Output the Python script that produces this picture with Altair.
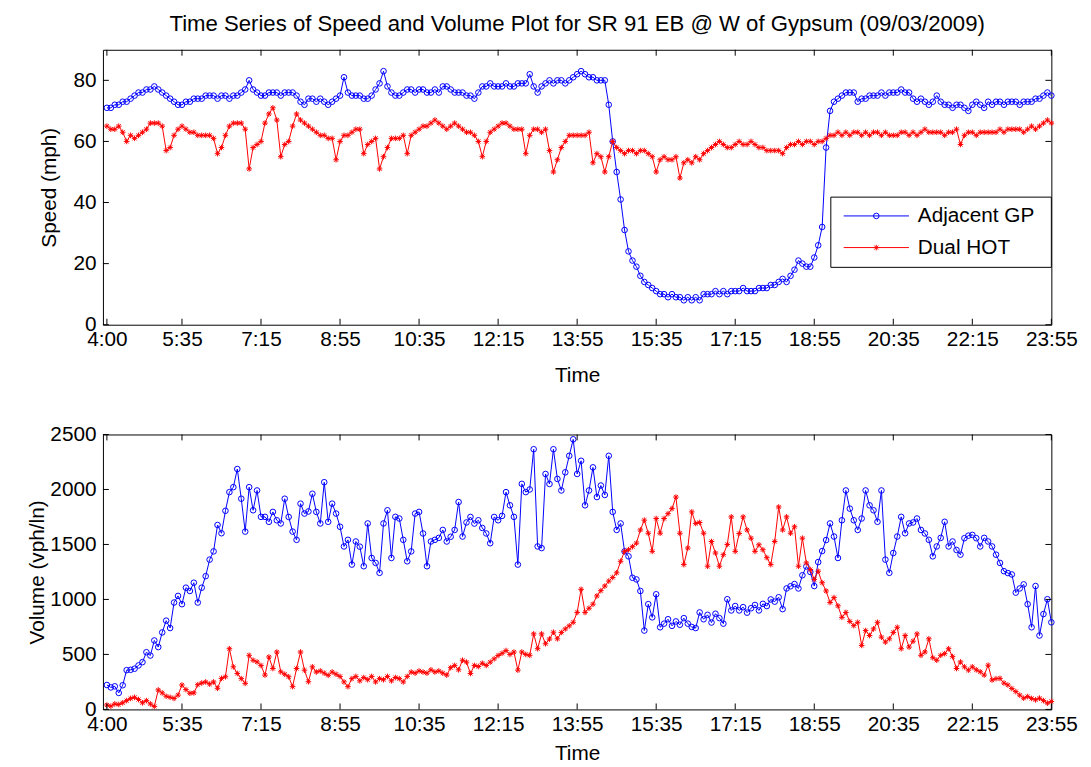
import altair as alt
import pandas as pd

FONT = "Liberation Sans"

# ---------------- data ----------------
time_index = list(range(1, 241))  # 5-minute intervals from 4:00 to 23:55
tick_positions = [1, 20, 40, 60, 80, 100, 120, 140, 160, 180, 200, 220, 240]
tick_labels = ["4:00", "5:35", "7:15", "8:55", "10:35", "12:15", "13:55",
               "15:35", "17:15", "18:55", "20:35", "22:15", "23:55"]
speed_ticks = [0, 20, 40, 60, 80]
volume_ticks = [0, 500, 1000, 1500, 2000, 2500]
series_names = ["Adjacent GP", "Dual HOT"]
series_colors = ["#0000FF", "#FF0000"]

speed_gp = [
    71, 71, 72, 72, 73, 73, 74, 75, 76, 76, 77, 77, 78, 77, 76, 75, 74, 73, 72, 72,
    73, 73, 74, 74, 74, 75, 75, 75, 74, 75, 75, 74, 75, 75, 76, 77, 80, 77, 76, 75,
    75, 76, 76, 76, 75, 76, 76, 76, 75, 73, 72, 74, 74, 73, 74, 73, 72, 73, 74, 75,
    81, 76, 75, 75, 75, 74, 74, 75, 77, 79, 83, 78, 76, 75, 75, 76, 77, 77, 76, 77,
    77, 76, 76, 77, 76, 78, 78, 77, 76, 76, 76, 75, 75, 74, 76, 78, 78, 79, 78, 78,
    78, 79, 78, 78, 79, 79, 79, 82, 78, 76, 78, 79, 80, 79, 80, 80, 79, 80, 81, 82,
    83, 82, 81, 81, 80, 80, 80, 72, 60, 50, 41, 31, 24, 21, 19, 16, 14, 13, 12, 11,
    10, 10, 9, 10, 9, 9, 8, 9, 8, 9, 8, 10, 10, 10, 11, 10, 11, 10, 11, 11,
    11, 12, 11, 11, 11, 12, 12, 12, 13, 13, 14, 15, 14, 16, 18, 21, 20, 19, 19, 22,
    26, 32, 58, 70, 73, 74, 75, 76, 76, 76, 73, 74, 74, 75, 75, 75, 76, 75, 76, 76,
    76, 77, 76, 76, 74, 73, 74, 73, 72, 73, 75, 73, 72, 72, 71, 72, 72, 71, 70, 72,
    73, 72, 71, 73, 72, 73, 73, 72, 73, 73, 73, 72, 73, 73, 73, 74, 74, 75, 76, 75,
]

speed_hot = [
    65, 64, 64, 65, 63, 60, 62, 61, 62, 63, 64, 66, 66, 66, 65, 57, 58, 62, 64, 65,
    64, 63, 63, 62, 62, 62, 62, 61, 56, 58, 62, 65, 66, 66, 66, 64, 51, 58, 59, 60,
    66, 69, 71, 67, 55, 59, 60, 65, 69, 67, 66, 65, 64, 63, 62, 62, 61, 61, 54, 60,
    62, 62, 63, 64, 64, 56, 59, 60, 61, 51, 55, 58, 61, 61, 61, 62, 56, 62, 63, 64,
    65, 65, 66, 67, 66, 65, 64, 65, 66, 65, 64, 63, 63, 62, 60, 55, 60, 63, 64, 65,
    66, 66, 65, 64, 64, 64, 56, 62, 64, 64, 63, 64, 57, 50, 54, 58, 60, 62, 62, 62,
    62, 62, 63, 53, 56, 55, 50, 55, 60, 58, 57, 56, 57, 57, 56, 57, 57, 56, 55, 50,
    54, 55, 54, 54, 55, 48, 53, 54, 53, 55, 54, 56, 57, 58, 59, 60, 59, 58, 58, 59,
    60, 59, 59, 60, 59, 58, 58, 57, 57, 57, 57, 56, 58, 59, 59, 60, 59, 60, 60, 59,
    60, 60, 61, 62, 62, 63, 62, 63, 62, 63, 63, 62, 63, 62, 63, 63, 62, 63, 62, 62,
    62, 63, 63, 62, 63, 62, 63, 64, 63, 63, 63, 63, 62, 63, 63, 64, 59, 62, 63, 63,
    62, 63, 63, 63, 63, 63, 64, 63, 64, 64, 64, 64, 63, 64, 65, 64, 65, 66, 67, 66,
]

volume_gp = [
    222, 200, 210, 150, 220, 357, 360, 370, 400, 430, 520, 490, 627, 567, 700, 807, 740, 972, 1032, 957,
    1107, 1077, 1152, 972, 1107, 1212, 1362, 1437, 1677, 1602, 1806, 1976, 2021, 2186, 1916, 1617, 2021, 1811, 1991, 1751,
    1751, 1706, 1796, 1720, 1691, 1916, 1750, 1617, 1542, 1871, 1781, 1800, 1961, 1796, 1691, 2066, 1706, 1871, 1781, 1661,
    1482, 1542, 1317, 1527, 1480, 1302, 1691, 1377, 1332, 1242, 1691, 1811, 1377, 1751, 1736, 1542, 1347, 1437, 1781, 1796,
    1600, 1302, 1527, 1542, 1560, 1632, 1527, 1570, 1632, 1886, 1572, 1700, 1750, 1690, 1720, 1650, 1600, 1511, 1750, 1720,
    1760, 1976, 1856, 1751, 1317, 2051, 1976, 2000, 2366, 1482, 1467, 2141, 2050, 2366, 2096, 1991, 2156, 2306, 2456, 2141,
    2261, 1856, 1991, 2201, 1931, 2036, 1950, 2306, 1796, 1632, 1691, 1437, 1392, 1197, 1182, 1077, 717, 957, 837, 1047,
    747, 780, 820, 760, 800, 770, 830, 780, 750, 740, 882, 820, 860, 790, 870, 830, 780, 1002, 900, 940,
    900, 930, 880, 920, 950, 900, 960, 940, 1000, 980, 1020, 912, 1100, 1120, 1140, 1100, 1220, 1300, 1250, 1122,
    1340, 1440, 1540, 1691, 1572, 1377, 1720, 1991, 1826, 1720, 1632, 1736, 1991, 1856, 1811, 1706, 1991, 1362, 1242, 1422,
    1572, 1751, 1602, 1691, 1700, 1736, 1632, 1600, 1542, 1392, 1482, 1560, 1706, 1482, 1527, 1450, 1407, 1557, 1580, 1587,
    1557, 1482, 1560, 1527, 1482, 1407, 1332, 1257, 1240, 1227, 1062, 1100, 1137, 957, 747, 1122, 672, 867, 1002, 792,
]

volume_hot = [
    40, 30, 50, 45, 60, 80, 100, 110, 90, 60, 80, 50, 27, 177, 150, 120, 110, 100, 130, 222,
    180, 147, 150, 225, 240, 250, 230, 250, 192, 282, 297, 552, 387, 327, 280, 237, 492, 447, 432, 400,
    312, 477, 372, 522, 342, 320, 297, 207, 372, 522, 357, 252, 387, 340, 350, 330, 310, 340, 320, 300,
    250, 207, 280, 300, 260, 290, 270, 300, 250, 280, 270, 300, 260, 290, 280, 250, 300, 340, 330, 350,
    340, 330, 360, 340, 350, 330, 312, 380, 400, 360, 447, 430, 327, 400, 390, 420, 400, 430, 460, 490,
    510, 535, 500, 522, 357, 522, 500, 492, 687, 552, 687, 597, 640, 702, 642, 700, 732, 760, 792, 882,
    1092, 882, 920, 957, 1032, 1080, 1122, 1167, 1200, 1242, 1347, 1437, 1452, 1480, 1512, 1632, 1721, 1602, 1437, 1736,
    1602, 1736, 1780, 1826, 1931, 1602, 1317, 1467, 1796, 1691, 1700, 1602, 1302, 1527, 1422, 1302, 1407, 1500, 1751, 1437,
    1600, 1751, 1632, 1557, 1437, 1497, 1452, 1380, 1317, 1527, 1841, 1632, 1751, 1602, 1661, 1302, 1557, 1332, 1272, 1182,
    1257, 1152, 1077, 972, 1017, 942, 837, 882, 800, 762, 792, 582, 717, 672, 732, 792, 657, 612, 642, 700,
    747, 552, 672, 567, 620, 687, 492, 522, 642, 470, 447, 492, 507, 552, 480, 372, 432, 387, 357, 387,
    360, 342, 312, 402, 267, 280, 282, 240, 222, 190, 162, 130, 102, 117, 100, 87, 102, 80, 57, 72,
]

# ---------------- tables ----------------
def long_table(gp, hot):
    return pd.DataFrame({
        "idx": time_index + time_index,
        "value": gp + hot,
        "series": [series_names[0]] * len(gp) + [series_names[1]] * len(hot),
    })

speed_df = long_table(speed_gp, speed_hot)
volume_df = long_table(volume_gp, volume_hot)
xtick_df = pd.DataFrame({"idx": tick_positions})
legend_df = pd.DataFrame({"series": series_names})

label_expr = "[" + ",".join("'%s'" % t for t in tick_labels) + "][indexof([" + \
    ",".join(str(p) for p in tick_positions) + "], datum.value)]"

ASTERISK = "M-1,0L1,0M0,-1L0,1M-0.72,-0.72L0.72,0.72M-0.72,0.72L0.72,-0.72"

W, H = 959, 278


def panel(df, yticks, ydomain, ytitle, ytitle_pad, xtitle_pad, legend):
    xscale = alt.Scale(domain=[0, 240], nice=False, zero=False)
    yscale = alt.Scale(domain=ydomain, nice=False, zero=False)
    xaxis = alt.Axis(values=tick_positions, labelExpr=label_expr, title="Time",
                     ticks=False, domain=False, grid=False,
                     labelPadding=4, titlePadding=xtitle_pad, labelFlush=False,
                     labelOverlap=False)
    yaxis = alt.Axis(values=yticks, format="d", ticks=False, domain=False, grid=False,
                     labelPadding=7, title=ytitle, titlePadding=ytitle_pad,
                     labelFlush=False, labelOverlap=False)
    x = alt.X("idx:Q", scale=xscale, axis=xaxis)
    y = alt.Y("value:Q", scale=yscale, axis=yaxis)
    base = alt.Chart(df)
    layers = []
    shapes = ["circle", ASTERISK]
    for name, color, shape in zip(series_names, series_colors, shapes):
        f = alt.datum.series == name
        layers.append(base.transform_filter(f).mark_line(color=color, strokeWidth=1)
                      .encode(x=x, y=y))
        layers.append(base.transform_filter(f).mark_point(shape=shape, filled=False, color=color,
                                                          size=32, strokeWidth=1, opacity=1)
                      .encode(x=x, y=y))
    # inward tick marks on all four sides
    xt = alt.Chart(xtick_df)
    layers.append(xt.mark_rule(color="black", strokeWidth=1).encode(
        x=x, y=alt.value(H), y2=alt.value(H - 6)))
    layers.append(xt.mark_rule(color="black", strokeWidth=1).encode(
        x=x, y=alt.value(0), y2=alt.value(6)))
    yt = alt.Chart(pd.DataFrame({"value": yticks}))
    layers.append(yt.mark_rule(color="black", strokeWidth=1).encode(
        y=y, x=alt.value(0), x2=alt.value(6)))
    layers.append(yt.mark_rule(color="black", strokeWidth=1).encode(
        y=y, x=alt.value(W), x2=alt.value(W - 6)))
    if legend:
        lg = alt.Chart(legend_df)
        layers.append(lg.transform_filter(alt.datum.series == series_names[0]).mark_rect(
            fill="white", stroke="black", strokeWidth=1).encode(
            x=alt.value(736), x2=alt.value(W), y=alt.value(149), y2=alt.value(220)))
        for i, (name, color, shape) in enumerate(zip(series_names, series_colors, shapes)):
            yy = 168 + 32 * i
            sub = lg.transform_filter(alt.datum.series == name)
            layers.append(sub.mark_rule(color=color, strokeWidth=1).encode(
                x=alt.value(749), x2=alt.value(815), y=alt.value(yy)))
            layers.append(sub.mark_point(shape=shape, filled=False, color=color, size=32,
                                         strokeWidth=1, opacity=1).encode(
                x=alt.value(782), y=alt.value(yy)))
            layers.append(sub.mark_text(align="left", baseline="middle", font=FONT,
                                        fontSize=21, color="black").encode(
                x=alt.value(824), y=alt.value(yy), text="series:N"))
    return alt.layer(*layers).properties(width=W, height=H)


top = panel(speed_df, speed_ticks, [0, 90], "Speed (mph)", 14, 15, True)
bottom = panel(volume_df, volume_ticks, [0, 2500], "Volume (vph/ln)", 2, 9, False)

chart = alt.vconcat(top, bottom, spacing=111, bounds="flush").properties(
    title=alt.Title("Time Series of Speed and Volume Plot for SR 91 EB @ W of Gypsum (09/03/2009)",
                    font=FONT, fontSize=22.4, fontWeight="normal", color="black",
                    anchor="middle", frame="group", offset=14),
    padding={"left": 18, "top": 0, "right": 5, "bottom": 0},
    background="white",
).configure_view(stroke="black", strokeWidth=1).configure_axis(
    labelFont=FONT, labelFontSize=21, labelColor="black",
    titleFont=FONT, titleFontSize=21, titleColor="black", titleFontWeight="normal",
)

chart.save("out.html", embed_options={"renderer": "svg", "actions": False})
